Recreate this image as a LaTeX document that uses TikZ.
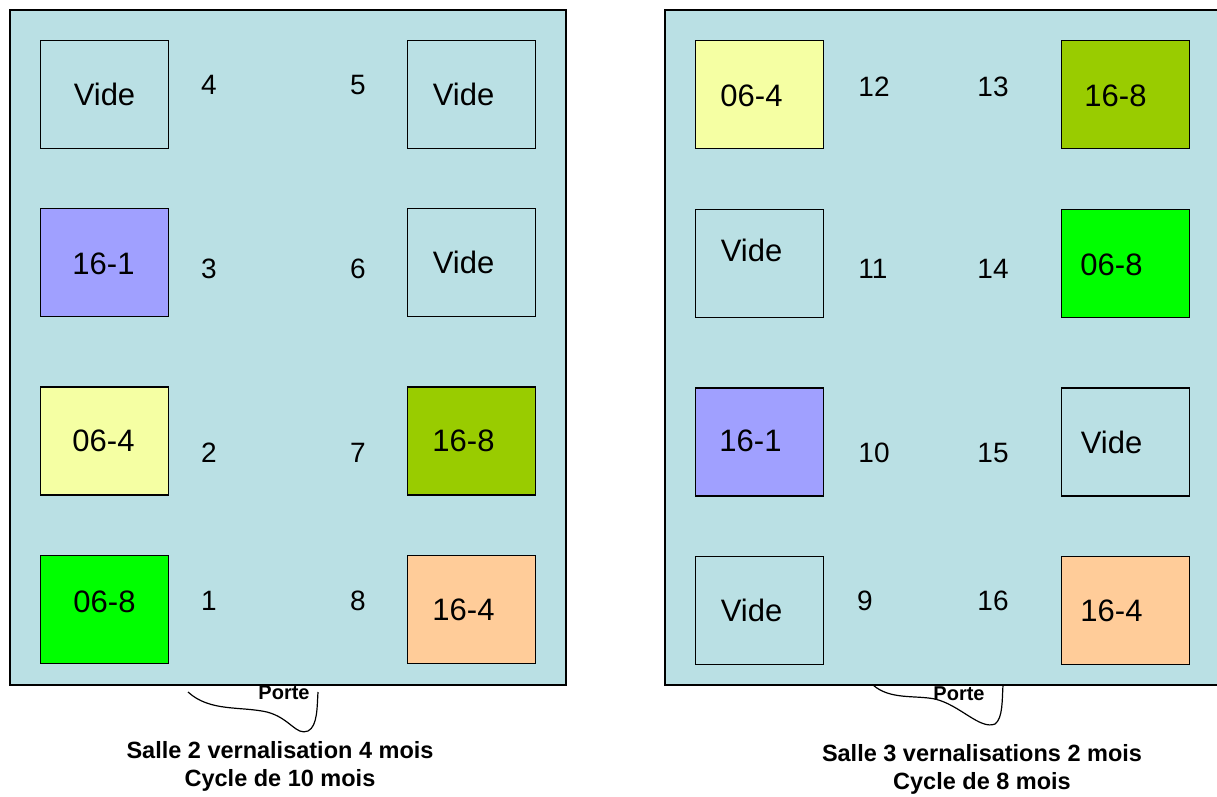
\documentclass[tikz,border=0pt]{standalone}
\usepackage{fontspec}
\setmainfont{Liberation Sans}
\usetikzlibrary{calc}
\definecolor{salle}{RGB}{186,224,228}
\definecolor{lavande}{RGB}{160,160,255}
\definecolor{jaune}{RGB}{245,255,163}
\definecolor{vert}{RGB}{0,255,0}
\definecolor{olive}{RGB}{153,204,0}
\definecolor{peche}{RGB}{255,204,153}
\tikzset{
	salle/.style={draw=black, line width=1.6pt, fill=salle},
	bac/.style={draw=black, line width=1.6pt, minimum width=128pt, minimum height=108pt, inner sep=0pt},
	numero/.style={font=\fontsize{28}{32}\selectfont},
	titre/.style={font=\bfseries\fontsize{23.5}{28}\selectfont, align=center},
	porte/.style={font=\bfseries\fontsize{20}{24}\selectfont}
}
% bac: nom, x, y, couleur, texte, decalage x, decalage y
\def\bac(#1)(#2,#3)[#4]#5(#6,#7){\node[bac, fill=#4, label={[font=\fontsize{31}{36}\selectfont, xshift=#6pt, yshift=#7pt]center:#5}] (#1) at (#2,#3) {};}

\begin{document}
\begin{tikzpicture}[x=1pt, y=-1pt]
		%%%%% START %%%%%
		\useasboundingbox (0,0) rectangle (1217,796);
		\clip (0,0) rectangle (1217,796);
		
		% salle 2
		\draw[salle] (10, 10) rectangle (566, 685);
		
		\bac(v4)(104.5, 94.5)[salle]{Vide}(0,0)
		\bac(s161)(104.5, 262.5)[lavande]{16-1}(-1,-1)
		\bac(s064)(104.5, 441)[jaune]{06-4}(-1,0)
		\bac(s068)(104.5, 609.5)[vert]{06-8}(0,8)
		
		\bac(v5)(471.5, 94.5)[salle]{Vide}(-8,0)
		\bac(v6)(471.5, 262.5)[salle]{Vide}(-8,0)
		\bac(s168)(471.5, 441)[olive]{16-8}(-8,0)
		\bac(s164)(471.5, 609.5)[peche]{16-4}(-8,0)
		
		\node[numero] (n4) at (209, 85) {4};
		\node[numero] (n5) at (358, 85) {5};
		\node[numero] (n3) at (209, 269) {3};
		\node[numero] (n6) at (358, 269) {6};
		\node[numero] (n2) at (209, 453) {2};
		\node[numero] (n7) at (358, 453) {7};
		\node[numero] (n1) at (209, 601) {1};
		\node[numero] (n8) at (358, 601) {8};
		
		\draw[line width=1.2pt] (188, 692) .. controls (210, 712) and (240, 706) .. (267, 712)
			.. controls (290, 718) and (296, 736) .. (308, 731)
			.. controls (318, 726) and (317, 705) .. (318, 692);
		\node[porte] (porte2) at (284, 693) {Porte};
		\node[titre] (titre2) at (280, 766) {Salle 2 vernalisation 4 mois\\Cycle de 10 mois};
		
		% salle 3
		\draw[salle] (665, 10) rectangle (1240, 685);
		
		\bac(s064b)(759.5, 94.5)[jaune]{06-4}(-8,-1)
		\bac(v11)(759.5, 263.5)[salle]{Vide}(-8,13)
		\bac(s161b)(759.5, 442)[lavande]{16-1}(-9,1)
		\bac(v9)(759.5, 610.5)[salle]{Vide}(-8,0)
		
		\bac(s168b)(1125.5, 94.5)[olive]{16-8}(-10,-1)
		\bac(s068b)(1125.5, 263.5)[vert]{06-8}(-14,-1)
		\bac(v15)(1125.5, 442)[salle]{Vide}(-14,0)
		\bac(s164b)(1125.5, 610.5)[peche]{16-4}(-14,0)
		
		\node[numero] (n12) at (874, 87) {12};
		\node[numero] (n13) at (993, 87) {13};
		\node[numero] (n11) at (873, 269) {11};
		\node[numero] (n14) at (993, 269) {14};
		\node[numero] (n10) at (874, 453) {10};
		\node[numero] (n15) at (993, 453) {15};
		\node[numero] (n9) at (865, 601) {9};
		\node[numero] (n16) at (993, 601) {16};
		
		\draw[line width=1.2pt] (873, 685) .. controls (890, 700) and (915, 695) .. (935, 699)
			.. controls (960, 705) and (980, 730) .. (995, 724)
			.. controls (1003, 718) and (1002, 700) .. (1003, 685);
		\node[porte] (porte3) at (959, 694) {Porte};
		\node[titre] (titre3) at (982, 769) {Salle 3 vernalisations 2 mois\\Cycle de 8 mois};
		
		%%%%% END %%%%%
	\end{tikzpicture}
\end{document}
